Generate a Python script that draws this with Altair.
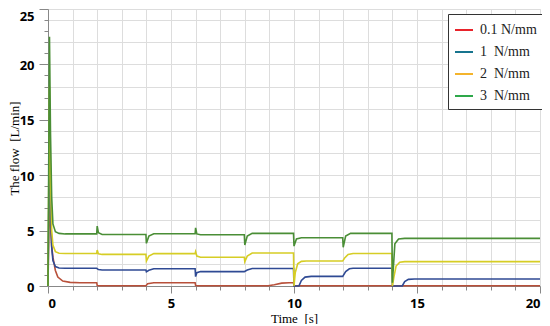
import altair as alt
import pandas as pd

series_names = ["0.1 N/mm", "1 \u00a0N/mm", "2 \u00a0N/mm", "3 \u00a0N/mm"]
legend_colors = ["#e8232b", "#17748e", "#f4b42c", "#2ea84a"]
line_colors = ["#b8503a", "#2f4a94", "#d6cd25", "#4a8e36"]

t_red = [0, 0.06, 0.1, 0.15, 0.2, 0.3, 0.4, 0.6, 0.9, 1.3,
         1.98, 2.0, 2.1, 3.98, 4.05, 4.3, 5.98, 6.0, 6.1,
         8.95, 9.2, 9.5, 9.8, 9.98, 10.0, 20]
v_red = [0, 9, 5.5, 3.6, 2.6, 1.4, 0.8, 0.45, 0.33, 0.3,
         0.3, 0.05, 0.02, 0.02, 0.2, 0.3, 0.3, 0.05, 0.02,
         0.02, 0.12, 0.26, 0.3, 0.3, 0.02, 0.02]

t_blue = [0, 0.06, 0.1, 0.15, 0.2, 0.3, 0.45, 0.7,
          1.98, 2.05, 2.2, 3.98, 4.0, 4.1, 4.3,
          5.98, 6.0, 6.05, 6.2, 7.98, 8.1, 8.3,
          9.98, 10.0, 10.2, 10.3, 10.45, 10.7,
          11.98, 12.1, 12.25, 12.4,
          13.98, 14.0, 14.4, 14.5, 14.65, 14.9, 20]
v_blue = [0, 13, 7, 3.5, 2.3, 1.75, 1.62, 1.6,
          1.6, 1.48, 1.44, 1.44, 1.28, 1.42, 1.56,
          1.56, 0.85, 1.2, 1.3, 1.3, 1.45, 1.58,
          1.58, 0, 0, 0.5, 0.8, 0.87,
          0.87, 1.3, 1.55, 1.6,
          1.6, 0, 0, 0.4, 0.6, 0.63, 0.63]

t_yellow = [0, 0.06, 0.1, 0.15, 0.2, 0.3, 0.45, 0.7,
            1.98, 2.0, 2.05, 2.2, 3.98, 4.0, 4.1, 4.3,
            5.98, 6.0, 6.05, 6.2, 7.98, 8.0, 8.1, 8.3,
            9.98, 10.0, 10.05, 10.15, 10.3, 10.5,
            11.98, 12.05, 12.2, 12.4,
            13.98, 14.0, 14.06, 14.15, 14.3, 14.5, 20]
v_yellow = [0, 18, 10, 5, 3.7, 3.1, 2.95, 2.94,
            2.94, 3.25, 2.9, 2.85, 2.85, 2.25, 2.7, 2.92,
            2.92, 3.1, 2.7, 2.6, 2.6, 2.2, 2.7, 2.98,
            2.98, 0, 1.2, 2.0, 2.22, 2.25,
            2.25, 2.5, 2.85, 2.94,
            2.94, 0, 0.8, 1.8, 2.15, 2.2, 2.2]

t_green = [0, 0.06, 0.1, 0.15, 0.2, 0.3, 0.45, 0.7,
           1.98, 2.0, 2.05, 2.2, 3.98, 4.0, 4.1, 4.3,
           5.98, 6.0, 6.05, 6.2, 7.98, 8.0, 8.1, 8.3,
           9.98, 10.0, 10.1, 10.3, 11.98, 12.0, 12.1, 12.3,
           13.98, 14.0, 14.1, 14.25, 14.5, 20]
v_green = [0, 22.5, 14, 8, 5.6, 4.9, 4.75, 4.7,
           4.7, 5.4, 4.8, 4.65, 4.65, 3.85, 4.5, 4.72,
           4.72, 5.25, 4.7, 4.62, 4.62, 3.7, 4.5, 4.75,
           4.75, 3.6, 4.25, 4.35, 4.35, 3.5, 4.5, 4.75,
           4.75, 0.3, 3.8, 4.25, 4.3, 4.3]

frames = []
for name, ts, vs in zip(series_names,
                        [t_red, t_blue, t_yellow, t_green],
                        [v_red, v_blue, v_yellow, v_green]):
    frames.append(pd.DataFrame({"t": ts, "v": vs, "series": name}))
df = pd.concat(frames, ignore_index=True)

x_ticks = list(range(0, 21))
y_ticks = list(range(0, 26))

x_enc = alt.X("t:Q", scale=alt.Scale(domain=[0, 20], nice=False),
              axis=alt.Axis(values=x_ticks,
                            labelExpr="datum.value % 5 === 0 ? datum.label : ''",
                            title="Time \u00a0[s]",
                            tickSize={"condition": {"test": "datum.value % 5 === 0", "value": 7}, "value": 4},
                            labelPadding=4, titleY=26, titleBaseline="top",
                            labelFont="Open Sans", labelFontWeight="bold", labelFontSize=13,
                            titleFont="Liberation Serif", titleFontWeight="normal", titleFontSize=13))
y_enc = alt.Y("v:Q", scale=alt.Scale(domain=[0, 25], nice=False),
              axis=alt.Axis(values=y_ticks,
                            labelExpr="datum.value % 5 === 0 ? datum.label : ''",
                            title="The flow \u00a0[L/min]",
                            tickSize={"condition": {"test": "datum.value % 5 === 0", "value": 9}, "value": 4},
                            labelBaseline={"condition": {"test": "datum.value === 25", "value": "top"}, "value": "middle"},
                            labelOffset=1,
                            gridOpacity={"condition": {"test": "datum.value % 2 === 0", "value": 1}, "value": 0},
                            labelPadding=5, titleX=-30, titleY=139, titleBaseline="alphabetic",
                            labelFont="Open Sans", labelFontWeight="bold", labelFontSize=13,
                            titleFont="Liberation Serif", titleFontWeight="normal", titleFontSize=13))

lines = alt.Chart(df).mark_line(strokeWidth=1.6).encode(
    x=x_enc, y=y_enc,
    color=alt.Color("series:N", sort=series_names,
                    scale=alt.Scale(domain=series_names, range=line_colors),
                    legend=None),
    order=alt.Order("t:Q"),
)

legend_layer = alt.Chart(df).mark_line(strokeWidth=2, opacity=0).encode(
    x=x_enc, y=y_enc,
    stroke=alt.Stroke("series:N", sort=series_names,
                      scale=alt.Scale(domain=series_names, range=legend_colors),
                      legend=alt.Legend(title=None, orient="none", legendX=400, legendY=5,
                                        symbolType="stroke", symbolSize=324, symbolStrokeWidth=2,
                                        symbolOpacity=1,
                                        labelFont="Liberation Serif", labelFontSize=14, labelColor="#222",
                                        rowPadding=5, padding=6, strokeColor="#333",
                                        fillColor="white", labelOffset=6)),
)

chart = alt.layer(legend_layer, lines).resolve_scale(color="independent", stroke="independent").properties(
    width=492, height=277,
    padding={"left": 40, "top": 1, "right": 2, "bottom": 38},
    autosize=alt.AutoSizeParams(type="none"),
).configure_view(stroke="#cccccc"
).configure_axis(
    domainColor="#444", tickColor="#444", gridColor="#dddddd", gridDash=[2, 2],
    labelColor="#222", titleColor="#222",
).configure(background="white")

chart.save("out.html", embed_options={"renderer": "svg", "actions": False})
